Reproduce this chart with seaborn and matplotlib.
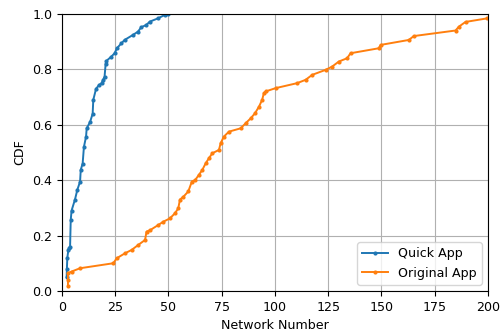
import matplotlib
matplotlib.use("Agg")
import matplotlib.pyplot as plt
import seaborn as sns
import pandas as pd

# CDF points
quick_x = [2.2, 2.3, 2.5, 3.0, 3.5, 3.8, 4.1, 4.5, 6.1, 7.2, 8.5, 8.8, 9.7, 10.3, 11.3,
           11.6, 13.2, 14.4, 14.7, 16.0, 17.5, 18.6, 19.3, 20.0, 20.5, 20.8, 23.2, 24.7,
           25.8, 27.9, 29.4, 33.3, 35.7, 37.2, 39.6, 41.2, 45.1, 48.2, 49.8]
quick_y = [0.05, 0.08, 0.12, 0.148, 0.155, 0.16, 0.256, 0.29, 0.33, 0.365, 0.395, 0.437,
           0.46, 0.52, 0.557, 0.587, 0.61, 0.64, 0.69, 0.73, 0.744, 0.75, 0.762, 0.774,
           0.82, 0.83, 0.846, 0.858, 0.876, 0.894, 0.906, 0.924, 0.936, 0.952, 0.96,
           0.972, 0.984, 0.996, 1.0]

orig_x = [2.8, 2.8, 2.8, 4.5, 8.5, 24.1, 25.7, 29.6, 32.7, 35.8, 39.0, 39.7, 41.5, 45.2,
          47.6, 50.7, 53.0, 54.6, 55.4, 57.0, 59.3, 61.0, 62.5, 64.3, 65.9, 67.5, 69.0,
          70.6, 73.7, 74.5, 76.0, 78.4, 83.9, 86.2, 88.6, 90.6, 92.5, 94.0, 94.8, 95.6,
          100.3, 110.4, 114.4, 117.5, 123.8, 126.9, 130.0, 133.9, 135.5, 148.8, 149.6,
          162.9, 165.2, 184.8, 186.4, 189.5, 199.7]
orig_y = [0.018, 0.04, 0.064, 0.07, 0.082, 0.1, 0.118, 0.136, 0.148, 0.166, 0.184, 0.214,
          0.22, 0.238, 0.25, 0.262, 0.28, 0.298, 0.33, 0.34, 0.359, 0.395, 0.40, 0.419,
          0.437, 0.461, 0.479, 0.497, 0.509, 0.533, 0.557, 0.575, 0.587, 0.605, 0.623,
          0.641, 0.665, 0.69, 0.714, 0.72, 0.732, 0.75, 0.762, 0.78, 0.798, 0.81, 0.828,
          0.84, 0.858, 0.876, 0.888, 0.906, 0.92, 0.94, 0.954, 0.971, 0.984]

df = pd.concat([
    pd.DataFrame({"x": quick_x, "y": quick_y, "app": "Quick App"}),
    pd.DataFrame({"x": orig_x, "y": orig_y, "app": "Original App"}),
])

plt.rcParams["font.size"] = 9.1
fig, ax = plt.subplots(figsize=(5.04, 3.31), dpi=100)
fig.subplots_adjust(left=0.123, right=0.968, top=0.958, bottom=0.121)

sns.lineplot(data=df, x="x", y="y", hue="app", palette=["#1f77b4", "#ff7f0e"],
             marker=".", markersize=6, markeredgewidth=0, linewidth=1.4,
             estimator=None, sort=False, ax=ax)

ax.set_xlim(0, 200)
ax.set_ylim(0, 1)
ax.set_xticks(range(0, 201, 25))
ax.set_yticks([0, 0.2, 0.4, 0.6, 0.8, 1.0])
ax.grid(True, color="#b0b0b0", linewidth=0.8)
ax.set_xlabel("Network Number")
ax.set_ylabel("CDF")
ax.legend(title=None, loc="lower right")

fig.savefig("out.png", dpi=100)
